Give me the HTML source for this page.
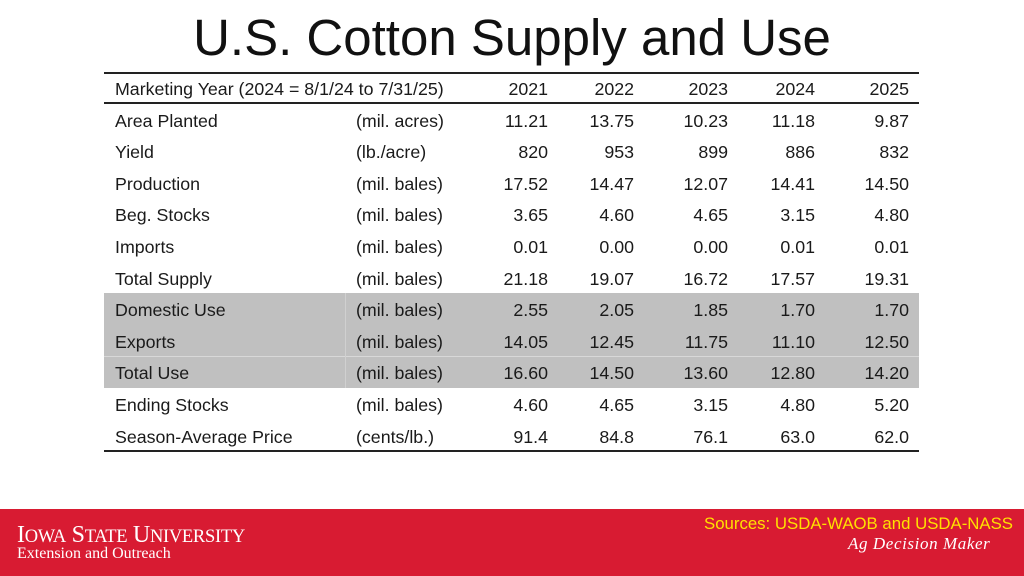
<!DOCTYPE html>
<html><head><meta charset="utf-8">
<style>
body{margin:0;width:1024px;height:576px;background:#fff;position:relative;overflow:hidden;font-family:"Liberation Sans",sans-serif;color:#1a1a1a}
.t{position:absolute;font-size:17.8px;line-height:20px;white-space:nowrap}
.r{text-align:right;width:80px}
.line{position:absolute;left:104px;width:815px;background:#222}
</style></head>
<body>
<div style="position:absolute;left:0;width:1024px;top:8px;text-align:center;font-size:51px;line-height:60px;color:#111">U.S. Cotton Supply and Use</div>
<div style="position:absolute;left:104px;width:815px;top:293px;height:95px;background:#c0c0c0"></div>
<div style="position:absolute;left:104px;width:815px;top:356px;height:1px;background:#d8d8d8"></div>
<div style="position:absolute;left:345px;width:1px;top:293px;height:95px;background:#d0d0d0"></div>
<div class="line" style="top:72px;height:2px"></div>
<div class="line" style="top:102px;height:2px"></div>
<div class="line" style="top:450px;height:2px"></div>
<div id="tbl"></div>
<div style="position:absolute;left:0;top:509px;width:1024px;height:67px;background:#d81b32"></div>
<div style="position:absolute;left:17px;top:522px;color:#fff;font-family:'Liberation Serif',serif;font-size:24px;line-height:26px;letter-spacing:-0.3px">I<span style="font-size:18.5px">OWA</span> S<span style="font-size:18.5px">TATE</span> U<span style="font-size:18.5px">NIVERSITY</span></div>
<div style="position:absolute;left:17px;top:545px;color:#fff;font-family:'Liberation Serif',serif;font-size:16px;line-height:18px">Extension and Outreach</div>
<div style="position:absolute;right:11px;top:514px;color:#ffe000;font-size:16.8px;line-height:19px">Sources: USDA-WAOB and USDA-NASS</div>
<div style="position:absolute;left:848px;top:534px;color:#fff;font-family:'Liberation Serif',serif;font-style:italic;font-size:17px;line-height:20px;letter-spacing:0.6px">Ag Decision Maker</div>
<script>
const years=["2021","2022","2023","2024","2025"];
const labels=["Area Planted","Yield","Production","Beg. Stocks","Imports","Total Supply","Domestic Use","Exports","Total Use","Ending Stocks","Season-Average Price"];
const units=["(mil. acres)","(lb./acre)","(mil. bales)","(mil. bales)","(mil. bales)","(mil. bales)","(mil. bales)","(mil. bales)","(mil. bales)","(mil. bales)","(cents/lb.)"];
const v2021=["11.21","820","17.52","3.65","0.01","21.18","2.55","14.05","16.60","4.60","91.4"];
const v2022=["13.75","953","14.47","4.60","0.00","19.07","2.05","12.45","14.50","4.65","84.8"];
const v2023=["10.23","899","12.07","4.65","0.00","16.72","1.85","11.75","13.60","3.15","76.1"];
const v2024=["11.18","886","14.41","3.15","0.01","17.57","1.70","11.10","12.80","4.80","63.0"];
const v2025=["9.87","832","14.50","4.80","0.01","19.31","1.70","12.50","14.20","5.20","62.0"];
const cols=[v2021,v2022,v2023,v2024,v2025];
const colRight=[548,634,728,815,909];
const tbl=document.getElementById('tbl');
function add(txt,x,y,right,name){
  const d=document.createElement('div');
  d.className='t'+(right?' r':'');
  d.style.left=(right?x-80:x)+'px';
  d.style.top=(y-9.5)+'px';
  d.textContent=txt;
  
  
  tbl.appendChild(d);
}
add("Marketing Year (2024 = 8/1/24 to 7/31/25)",115,88,false,'header-marketing-year');
years.forEach((y,i)=>add(y,colRight[i],88,true,'header-year-'+y));
labels.forEach((l,r)=>{
  const y=120+r*31.6;
  add(l,115,y,false,'row-label');
  add(units[r],356,y,false,'row-unit');
  cols.forEach((c,i)=>add(c[r],colRight[i],y,true,'cell-value'));
});
</script>
</body></html>
